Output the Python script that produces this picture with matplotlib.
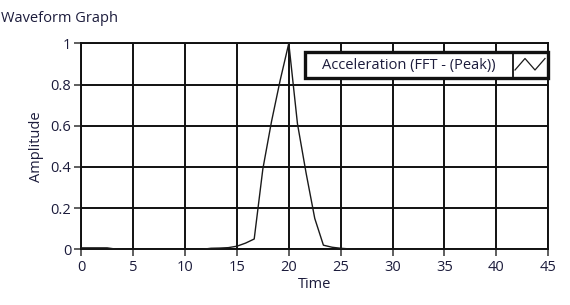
import matplotlib
matplotlib.use("Agg")
import matplotlib.pyplot as plt
from matplotlib.patches import Rectangle
from matplotlib.lines import Line2D
import numpy as np

plt.rcParams['font.family'] = ['Open Sans', 'DejaVu Sans']

# ---- data ----
dt = 5.0 / 6.0
amplitude = [0.007, 0.007, 0.007, 0.007, 0.001, 0.0, 0.0, 0.0, 0.0, 0.0,
             0.0, 0.0, 0.0, 0.0, 0.0, 0.005, 0.006, 0.008, 0.015, 0.03,
             0.05, 0.39, 0.62, 0.82, 1.0, 0.61, 0.37, 0.15, 0.02, 0.01,
             0.005, 0.002, 0.0, 0.0, 0.0, 0.0, 0.0, 0.0, 0.0, 0.0,
             0.0, 0.0, 0.0, 0.0, 0.0, 0.0, 0.0, 0.0, 0.0, 0.0,
             0.0, 0.0, 0.0, 0.0, 0.0]
time = [i * dt for i in range(len(amplitude))]
x_ticks = [0, 5, 10, 15, 20, 25, 30, 35, 40, 45]
y_ticks = [0, 0.2, 0.4, 0.6, 0.8, 1]
y_ticklabels = ['0', '0.2', '0.4', '0.6', '0.8', '1']
title = "Waveform Graph"
legend_label = "Acceleration (FFT - (Peak))"
xlabel = "Time"
ylabel = "Amplitude"

W, H = 570, 305
FS = 10.5
fig = plt.figure(figsize=(W / 100, H / 100), dpi=100)
fig.patch.set_facecolor('white')

x0, x1, y0, y1 = 81.2, 548.3, 249.3, 43.3
ax = fig.add_axes([x0 / W, (H - y0) / H, (x1 - x0) / W, (y0 - y1) / H])
ax.set_xlim(0, 45)
ax.set_ylim(0, 1)

ax.plot(time, amplitude, color='#1a1a1a', lw=1.0, zorder=3)

ax.set_xticks(x_ticks)
ax.set_yticks(y_ticks)
ax.set_yticklabels(y_ticklabels)
ax.grid(True, color='#111111', lw=1.4, zorder=1)
ax.set_axisbelow(True)
for s in ax.spines.values():
    s.set_color('#111111')
    s.set_linewidth(1.4)
tc = '#1c1c3c'
ax.tick_params(axis='both', direction='out', length=5, width=1.1, color='#333333',
               labelsize=FS, labelcolor=tc)
ax.tick_params(axis='x', pad=3)
ax.tick_params(axis='y', pad=2)
ax.set_xlabel(xlabel, fontsize=FS, color=tc, labelpad=1)
ax.set_ylabel(ylabel, fontsize=FS, color=tc, labelpad=5)

fig.text(1 / W, 1 - 18 / H, title, fontsize=FS, color=tc, va='center', ha='left')

# ---- legend (LabVIEW style plot legend) ----
def ax_x(px):
    return (px - x0) / (x1 - x0)

def ax_y(py):
    return (y0 - py) / (y0 - y1)

lx0, lx1, ly0, ly1 = ax_x(305.0), ax_x(547.5), ax_y(78.0), ax_y(52.5)
sep = ax_x(512.5)
ax.add_patch(Rectangle((lx0, ly0), lx1 - lx0, ly1 - ly0, transform=ax.transAxes,
                       facecolor='white', edgecolor='#111111', lw=2.4,
                       clip_on=False, zorder=5))
ax.add_line(Line2D([sep, sep], [ly0, ly1], transform=ax.transAxes, color='#111111',
                   lw=1.3, clip_on=False, zorder=6))
ax.text((lx0 + sep) / 2, (ly0 + ly1) / 2, legend_label, transform=ax.transAxes,
        ha='center', va='center', fontsize=FS, color=tc, zorder=7)
ix = [ax_x(515), ax_x(525), ax_x(535), ax_x(545)]
iy = [ax_y(70), ax_y(58.5), ax_y(70), ax_y(58.5)]
ax.add_line(Line2D(ix, iy, transform=ax.transAxes, color='#1a1a1a', lw=0.9,
                   clip_on=False, zorder=7))

fig.savefig('out.png', dpi=100, facecolor='white')
